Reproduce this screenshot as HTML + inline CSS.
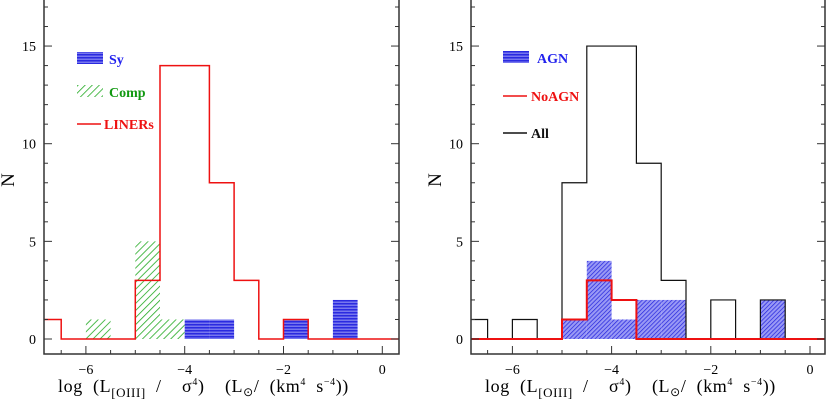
<!DOCTYPE html>
<html><head><meta charset="utf-8">
<style>
body{margin:0;background:#fff;width:827px;height:400px;overflow:hidden}
svg{display:block}
text{font-family:"Liberation Serif",serif;white-space:pre}
</style></head>
<body>
<svg id="chart" width="827" height="400" viewBox="0 0 827 400">
<defs>
<pattern id="hatchG" patternUnits="userSpaceOnUse" width="5" height="5" patternTransform="rotate(45)">
<rect width="5" height="5" fill="#fff"/><line x1="0" y1="0" x2="0" y2="5" stroke="#22aa22" stroke-width="1.6"/></pattern>
<pattern id="hstripe" patternUnits="userSpaceOnUse" width="4" height="3">
<rect width="4" height="3" fill="#7777ee"/><rect width="4" height="1.5" fill="#2a2ae0"/></pattern>
<pattern id="hatchB" patternUnits="userSpaceOnUse" width="3" height="3" patternTransform="rotate(45)">
<rect width="3" height="3" fill="#9999f5"/><line x1="0" y1="0" x2="0" y2="3" stroke="#2222dd" stroke-width="1.4"/></pattern>
</defs>
<g id="left"></g>
<g id="right"></g>
</svg>
<script>
const binStarts = [-7,-6.5,-6,-5.5,-5,-4.5,-4,-3.5,-3,-2.5,-2,-1.5,-1,-0.5,0];
const linersCounts = [1,0,0,0,3,14,14,8,3,0,1,0,0,0,0];
const compCounts   = [0,0,1,0,5,1,0,0,0,0,0,0,0,0,0];
const syCounts     = [0,0,0,0,0,0,1,1,0,0,1,0,2,0,0];
const allCounts    = [1,0,1,0,8,15,15,9,3,0,2,0,2,0,0];
const noagnCounts  = [0,0,0,0,1,3,2,0,0,0,0,0,0,0,0];
const agnCounts    = [0,0,0,0,1,4,1,2,2,0,0,0,2,0,0];
const yTicks = [0,5,10,15];
const xTicks = [-6,-4,-2,0];
const binW = 0.5;
const NS='http://www.w3.org/2000/svg';
function mk(tag,attrs,parent){const e=document.createElementNS(NS,tag);for(const k in attrs)e.setAttribute(k,attrs[k]);parent.appendChild(e);return e;}

function panel(g,L,R,x0px,xUnit){
  const top=0,bot=354,y0=339,yU=19.53;
  const X=v=>x0px+v*xUnit, Y=v=>y0-v*yU;
  const xmin=(L-x0px)/xUnit, xmax=(R-x0px)/xUnit;
  const clip=v=>Math.max(L,Math.min(R,v));
  return {X,Y,L,R,top,bot,xmin,xmax,clip,
   frame(){
    for(let v=0;v<=17;v++){const len=v%5==0?8:4;
      let t=mk('line',{x1:L,x2:L+len,y1:Y(v),y2:Y(v),stroke:'#333'},g);
      
      mk('line',{x1:R,x2:R-len,y1:Y(v),y2:Y(v),stroke:'#333'},g);}
    for(let v=Math.ceil(xmin*2)/2;v<=xmax;v+=0.5){const len=Math.abs(v%2)<1e-6?8:4;
      let t=mk('line',{x1:X(v),x2:X(v),y1:bot,y2:bot-len,stroke:'#333'},g);
      }
    let f=mk('path',{d:`M${L},${top} V${bot} H${R} V${top}`,fill:'none',stroke:'#333','stroke-width':1.5},g);
    
    yTicks.forEach(v=>{let t=mk('text',{x:L-8,y:Y(v)+5,'text-anchor':'end','font-size':14},g);t.textContent=v;
      });
    xTicks.forEach(v=>{let t=mk('text',{x:X(v),y:374,'text-anchor':'middle','font-size':14},g);t.textContent=v===0?'0':'\u2212'+(-v);
      });
    let yl=mk('text',{x:L-30,y:180,'text-anchor':'middle','font-size':19,transform:`rotate(-90 ${L-30} 180)`},g);yl.textContent='N';
    
    let xl=mk('text',{x:L+14,y:392,'font-size':18,'letter-spacing':'0.6'},g);
    xl.innerHTML='log  (L<tspan font-size="13" dy="5">[OIII]</tspan><tspan dy="-5">  /    \u03C3</tspan><tspan font-size="10" dy="-7">4</tspan><tspan dy="7">)    (L</tspan><tspan font-size="12" dy="4">\u2299</tspan><tspan dy="-4">/  (km</tspan><tspan font-size="10" dy="-7">4</tspan><tspan dy="7">  s</tspan><tspan font-size="10" dy="-7">\u22124</tspan><tspan dy="7">))</tspan>';
    
   },
   bars(counts,fill,name){
    counts.forEach((c,i)=>{if(!c)return;const a=clip(X(binStarts[i])),b=clip(X(binStarts[i]+binW));
      let r=mk('rect',{x:a,y:Y(c),width:b-a,height:Y(0)-Y(c),fill:fill},g);
      });
   },
   step(counts,color,name,w){
    let d='';counts.forEach((c,i)=>{const a=clip(X(binStarts[i])),b=clip(X(binStarts[i]+binW));
      d+=(i?'L':'M')+a+','+Y(c)+' L'+b+','+Y(c)+' ';});
    let p=mk('path',{d,fill:'none',stroke:color,'stroke-width':w||1.5},g);
    
   }};
}
const gl=document.getElementById('left'), gr=document.getElementById('right');
const P1=panel(gl,44,399,382.3,49.4);
P1.bars(compCounts,'url(#hatchG)','comp-bar');
P1.bars(syCounts,'url(#hstripe)','sy-bar');
P1.step(linersCounts,'#ee1111','liners-line',1.5);
P1.frame();
const P2=panel(gr,471,825,810,49.6);
P2.bars(agnCounts,'url(#hatchB)','agn-bar');
P2.step(allCounts,'#111','all-line',1.2);
P2.step(noagnCounts,'#ee1111','noagn-line',2);
P2.frame();
function leg(g,x,y,kind,fill,label,color,tx){
  if(kind==='box'){let r=mk('rect',{x:x,y:y-7,width:26,height:12,fill:fill},g);}
  else{let l=mk('line',{x1:x,x2:x+24,y1:y,y2:y,stroke:fill,'stroke-width':1.5},g);}
  let t=mk('text',{x:tx,y:y+5,'font-size':14,'font-weight':'bold',fill:color},g);t.textContent=label;
  
}
leg(gl,77,59,'box','url(#hstripe)','Sy','#2222ee',109);
leg(gl,77,92,'box','url(#hatchG)','Comp','#119911',109);
leg(gl,77,124,'line','#ee1111','LINERs','#ee1111',104);
leg(gr,503,58,'box','url(#hstripe)','AGN','#2222ee',537);
leg(gr,503,96,'line','#ee1111','NoAGN','#ee1111',531);
leg(gr,503,133,'line','#111','All','#111',531);
</script>
</body></html>
